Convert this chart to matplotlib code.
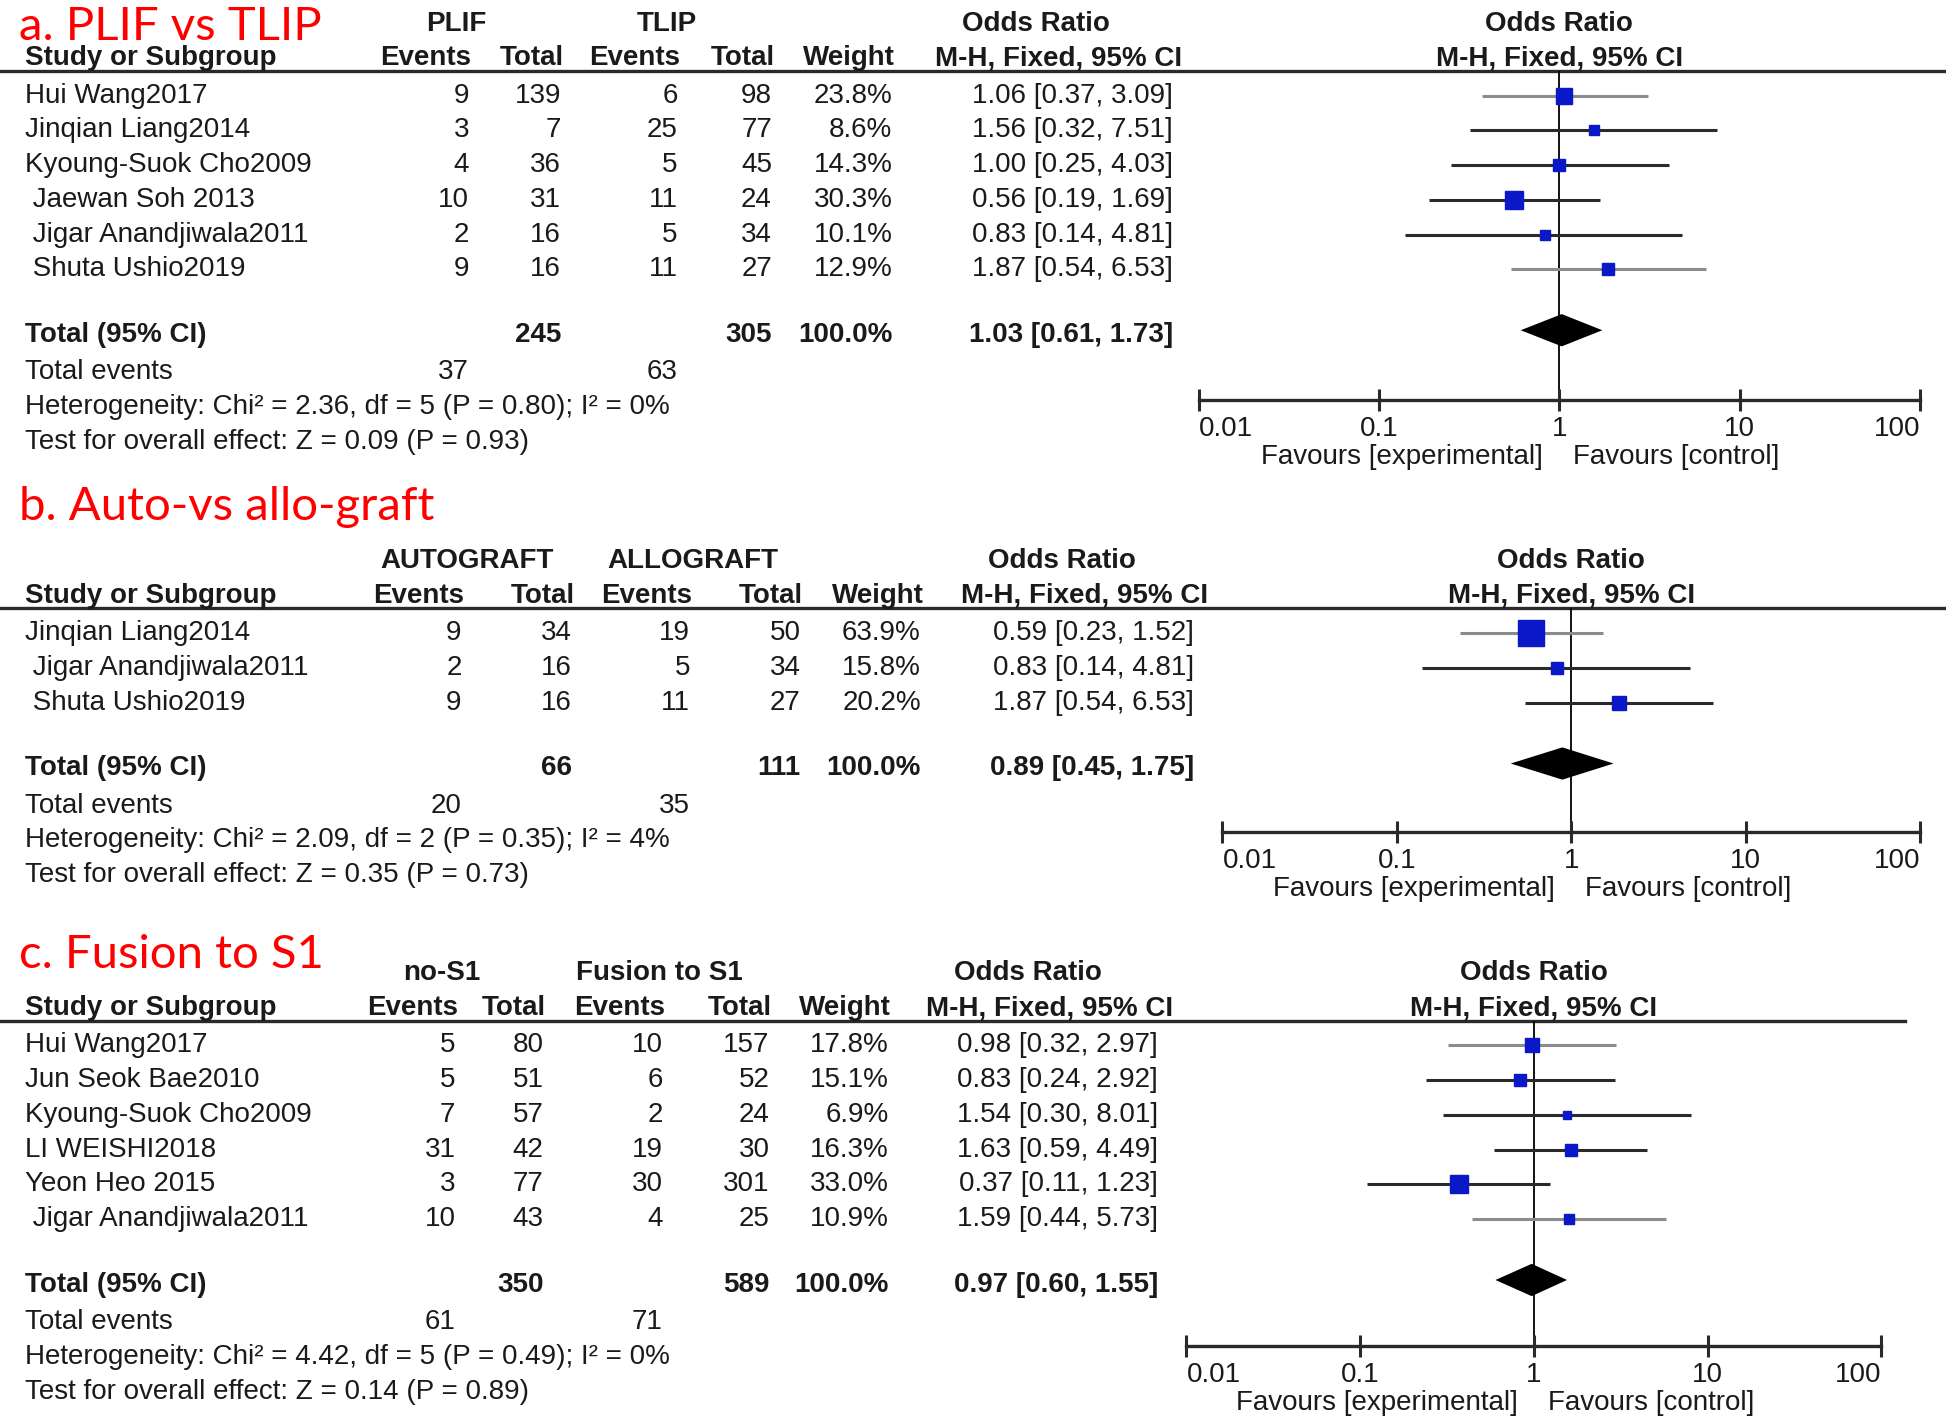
import matplotlib
matplotlib.use("Agg")
from matplotlib import pyplot as plt
import numpy as np

plt.rcParams['font.family'] = ['Liberation Sans', 'DejaVu Sans']

# ---- data: a. PLIF vs TLIP ----
studies_a = ["Hui Wang2017", "Jinqian Liang2014", "Kyoung-Suok Cho2009",
             " Jaewan Soh 2013", " Jigar Anandjiwala2011", " Shuta Ushio2019"]
ev1_a = [9, 3, 4, 10, 2, 9]
tot1_a = [139, 7, 36, 31, 16, 16]
ev2_a = [6, 25, 5, 11, 5, 11]
tot2_a = [98, 77, 45, 24, 34, 27]
weight_a = [23.8, 8.6, 14.3, 30.3, 10.1, 12.9]
or_a = [1.06, 1.56, 1.00, 0.56, 0.83, 1.87]
lo_a = [0.37, 0.32, 0.25, 0.19, 0.14, 0.54]
hi_a = [3.09, 7.51, 4.03, 1.69, 4.81, 6.53]
total_a = [245, 305, 1.03, 0.61, 1.73]
events_a = [37, 63]
het_a = "Heterogeneity: Chi² = 2.36, df = 5 (P = 0.80); I² = 0%"
test_a = "Test for overall effect: Z = 0.09 (P = 0.93)"

# ---- data: b. Auto-vs allo-graft ----
studies_b = ["Jinqian Liang2014", " Jigar Anandjiwala2011", " Shuta Ushio2019"]
ev1_b = [9, 2, 9]
tot1_b = [34, 16, 16]
ev2_b = [19, 5, 11]
tot2_b = [50, 34, 27]
weight_b = [63.9, 15.8, 20.2]
or_b = [0.59, 0.83, 1.87]
lo_b = [0.23, 0.14, 0.54]
hi_b = [1.52, 4.81, 6.53]
total_b = [66, 111, 0.89, 0.45, 1.75]
events_b = [20, 35]
het_b = "Heterogeneity: Chi² = 2.09, df = 2 (P = 0.35); I² = 4%"
test_b = "Test for overall effect: Z = 0.35 (P = 0.73)"

# ---- data: c. Fusion to S1 ----
studies_c = ["Hui Wang2017", "Jun Seok Bae2010", "Kyoung-Suok Cho2009",
             "LI WEISHI2018", "Yeon Heo 2015", " Jigar Anandjiwala2011"]
ev1_c = [5, 5, 7, 31, 3, 10]
tot1_c = [80, 51, 57, 42, 77, 43]
ev2_c = [10, 6, 2, 19, 30, 4]
tot2_c = [157, 52, 24, 30, 301, 25]
weight_c = [17.8, 15.1, 6.9, 16.3, 33.0, 10.9]
or_c = [0.98, 0.83, 1.54, 1.63, 0.37, 1.59]
lo_c = [0.32, 0.24, 0.30, 0.59, 0.11, 0.44]
hi_c = [2.97, 2.92, 8.01, 4.49, 1.23, 5.73]
total_c = [350, 589, 0.97, 0.60, 1.55]
events_c = [61, 71]
het_c = "Heterogeneity: Chi² = 4.42, df = 5 (P = 0.49); I² = 0%"
test_c = "Test for overall effect: Z = 0.14 (P = 0.89)"

ticks = [0.01, 0.1, 1, 10, 100]
tick_labels = ["0.01", "0.1", "1", "10", "100"]

# layout works in a 1568 x 1147 grid (scaled to the 1946 x 1424 output)
W, H = 1568.0, 1147.0
FS = 20
TXT = "#1a1a1a"

fig = plt.figure(figsize=(19.46, 14.24), dpi=100)
bg = fig.add_axes([0, 0, 1, 1])
bg.set_xlim(0, W)
bg.set_ylim(H, 0)
bg.axis("off")


def t(x, y, s, ha="right", bold=False, **kw):
    bg.text(x, y, s, fontsize=FS, ha=ha, va="center", color=TXT,
            weight="bold" if bold else "normal", **kw)


def panel(title, g1, g2, studies, ev1, tot1, ev2, tot2, weight, orv, lo, hi,
          total, events, het, test, y_title, y_grp, cols, groups, ax_x,
          line_end, grey_rows, axis_gap):
    ce1, ct1, ce2, ct2, cw, cci, cmid = cols
    y_hdr, y_line = y_grp + 28, y_grp + 38
    dy = 28
    rows = [y_line + 20 + i * dy for i in range(len(studies))]
    y_tot = rows[-1] + 53
    y_ev = y_tot + 30
    y_het = y_ev + 28
    y_test = y_het + 28
    y_axis = y_ev + axis_gap

    bg.text(15, y_title + 14, title, color="#ff0000", fontsize=34, family="Lato",
            ha="left", va="baseline")
    t(groups[0], y_grp, g1, ha="center", bold=True)
    t(groups[1], y_grp, g2, ha="center", bold=True)
    t(cmid, y_grp, "Odds Ratio", ha="center", bold=True)
    fx0, fx1 = ax_x
    fmid = (fx0 + fx1) / 2
    t(fmid, y_grp, "Odds Ratio", ha="center", bold=True)

    t(20, y_hdr, "Study or Subgroup", ha="left", bold=True)
    for x, s in [(ce1, "Events"), (ct1, "Total"), (ce2, "Events"), (ct2, "Total"), (cw, "Weight")]:
        t(x + 2, y_hdr, s, bold=True)
    t(cmid + 18, y_hdr, "M-H, Fixed, 95% CI", ha="center", bold=True)
    t(fmid, y_hdr, "M-H, Fixed, 95% CI", ha="center", bold=True)
    bg.plot([0, line_end], [y_line, y_line], color="#2a2a2a", lw=2.4)

    for i, y in enumerate(rows):
        t(20, y, studies[i], ha="left")
        t(ce1, y, str(ev1[i]))
        t(ct1, y, str(tot1[i]))
        t(ce2, y, str(ev2[i]))
        t(ct2, y, str(tot2[i]))
        t(cw, y, "%.1f%%" % weight[i])
        t(cci, y, "%.2f [%.2f, %.2f]" % (orv[i], lo[i], hi[i]))

    t(20, y_tot, "Total (95% CI)", ha="left", bold=True)
    t(ct1, y_tot, str(total[0]), bold=True)
    t(ct2, y_tot, str(total[1]), bold=True)
    t(cw, y_tot, "100.0%", bold=True)
    t(cci, y_tot, "%.2f [%.2f, %.2f]" % (total[2], total[3], total[4]), bold=True)
    t(20, y_ev, "Total events", ha="left")
    t(ce1, y_ev, str(events[0]))
    t(ce2, y_ev, str(events[1]))
    t(20, y_het, het, ha="left")
    t(20, y_test, test, ha="left")

    # forest plot: x is the log odds-ratio scale, y uses layout units
    ax = fig.add_axes([fx0 / W, 1 - y_axis / H, (fx1 - fx0) / W, (y_axis - y_line) / H])
    ax.set_xscale("log")
    ax.set_xlim(0.01, 100)
    ax.set_ylim(y_axis, y_line)
    ax.patch.set_visible(False)
    for s in ["top", "left", "right"]:
        ax.spines[s].set_visible(False)
    ax.spines["bottom"].set_linewidth(2.4)
    ax.spines["bottom"].set_color("#2a2a2a")
    ax.set_yticks([])
    ax.set_xticks(ticks)
    ax.set_xticklabels(tick_labels)
    ax.minorticks_off()
    ax.tick_params(axis="x", direction="inout", length=16, width=2.2, color="#2a2a2a",
                   labelsize=FS, labelcolor=TXT, pad=4)
    labs = ax.get_xticklabels()
    labs[0].set_ha("left")
    labs[-1].set_ha("right")
    ax.axvline(1, color="black", lw=1.3, zorder=1)
    for i, y in enumerate(rows):
        c = "#8c8c8c" if i in grey_rows else "#2a2a2a"
        ax.plot([lo[i], hi[i]], [y, y], color=c, lw=2.2, zorder=2,
                solid_capstyle="butt")
        ax.plot(orv[i], y, marker="s", color="#0b18c8", ms=2.3 * np.sqrt(weight[i]),
                mec="#0b18c8", zorder=3, ls="none")
    d = 13
    yd = y_tot - 4
    ax.fill([total[3], total[2], total[4], total[2]], [yd, yd - d, yd, yd + d],
            color="black", zorder=4, lw=0)
    y_fav = y_axis + 46
    t(fmid - 13, y_fav, "Favours [experimental]")
    t(fmid + 11, y_fav, "Favours [control]", ha="left")
    return ax


panel("a. PLIF vs TLIP", "PLIF", "TLIP", studies_a, ev1_a, tot1_a, ev2_a, tot2_a,
      weight_a, or_a, lo_a, hi_a, total_a, events_a, het_a, test_a,
      y_title=18, y_grp=19, cols=(378, 452, 546, 622, 719, 945, 835),
      groups=(368, 537), ax_x=(966, 1547), line_end=W, grey_rows=[0, 5], axis_gap=22)

panel("b. Auto-vs allo-graft", "AUTOGRAFT", "ALLOGRAFT", studies_b, ev1_b, tot1_b,
      ev2_b, tot2_b, weight_b, or_b, lo_b, hi_b, total_b, events_b, het_b, test_b,
      y_title=405, y_grp=452, cols=(372, 461, 556, 645, 742, 962, 856),
      groups=(376, 558), ax_x=(985, 1547), line_end=W, grey_rows=[0], axis_gap=21)

panel("c. Fusion to S1", "no-S1", "Fusion to S1", studies_c, ev1_c, tot1_c,
      ev2_c, tot2_c, weight_c, or_c, lo_c, hi_c, total_c, events_c, het_c, test_c,
      y_title=766, y_grp=784, cols=(367, 438, 534, 620, 716, 933, 828),
      groups=(356, 531), ax_x=(956, 1516), line_end=1535, grey_rows=[0, 5], axis_gap=19)

plt.savefig("out.png", dpi=100)
